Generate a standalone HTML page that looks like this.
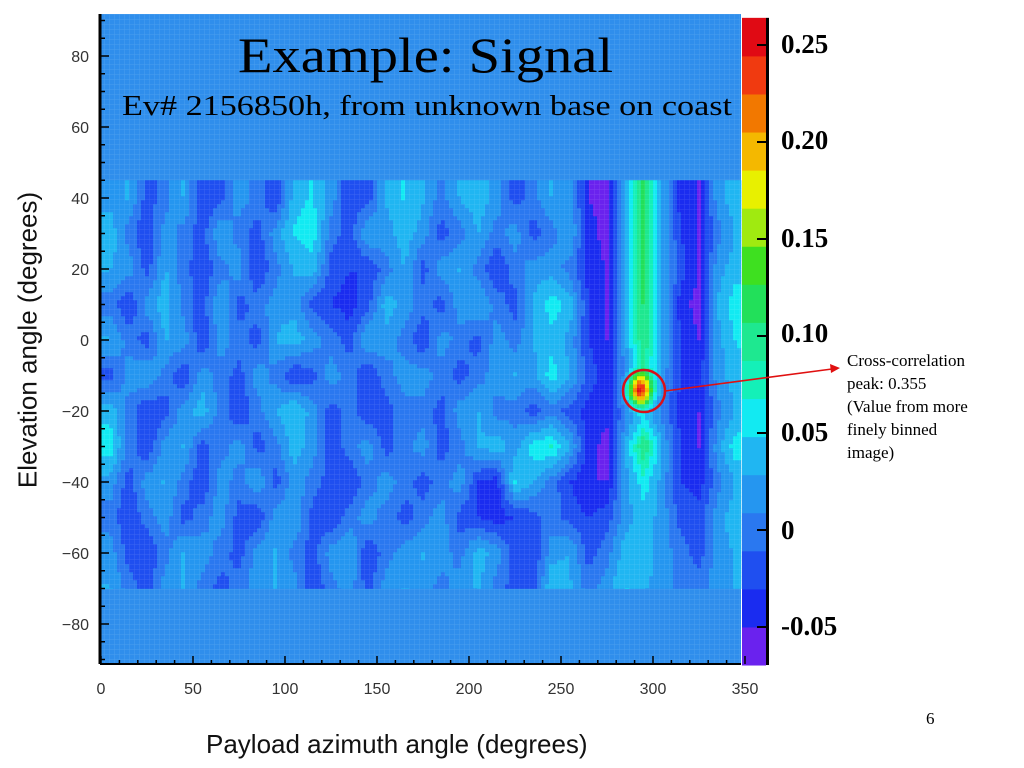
<!DOCTYPE html>
<html><head><meta charset="utf-8">
<style>
html,body{margin:0;padding:0;background:#fff;}
body{width:1024px;height:768px;position:relative;overflow:hidden;font-family:"Liberation Sans",sans-serif;}
.abs{position:absolute;white-space:nowrap;}
.serif{font-family:"Liberation Serif",serif;}
.cb{font-family:"Liberation Serif",serif;font-weight:bold;font-size:27px;color:#000;}
</style></head>
<body>
<svg id="chart" width="1024" height="768" style="position:absolute;left:0;top:0">
  <defs>
    <pattern id="gridpat" width="5" height="5" patternUnits="userSpaceOnUse">
      <path d="M5 0V5M0 5H5" stroke="#ffffff" stroke-opacity="0.13" stroke-width="1" fill="none"/>
    </pattern>
  </defs>
  <rect x="101" y="14" width="640" height="650" fill="#2f8eec"/>
  <g id="cells"></g>
  <rect x="101" y="14" width="640" height="650" fill="url(#gridpat)"/>
  <g id="colorbar"></g>
  <g id="axes"></g>
  <circle cx="644" cy="391" r="21" fill="none" stroke="#d8101a" stroke-width="2.5"/>
  <line x1="665" y1="391" x2="832" y2="369" stroke="#e01010" stroke-width="1.6"/>
  <polygon points="840,368 830,364 831,373" fill="#e01010"/>
</svg>

<div class="abs serif" style="left:238px;top:26px;font-size:50px;transform:scaleX(1.13);transform-origin:left top;">Example: Signal</div>
<div class="abs serif" style="left:122px;top:91px;font-size:28px;transform:scaleX(1.22);transform-origin:left top;">Ev# 2156850h, from unknown base on coast</div>

<div class="abs cb" style="left:781px;top:29px;">0.25</div>
<div class="abs cb" style="left:781px;top:125px;">0.20</div>
<div class="abs cb" style="left:781px;top:223px;">0.15</div>
<div class="abs cb" style="left:781px;top:318px;">0.10</div>
<div class="abs cb" style="left:781px;top:417px;">0.05</div>
<div class="abs cb" style="left:781px;top:515px;">0</div>
<div class="abs cb" style="left:781px;top:611px;">-0.05</div>

<div class="abs serif" style="left:847px;top:349px;font-size:17px;line-height:23px;white-space:normal;width:175px;">Cross-correlation<br>peak: 0.355<br>(Value from more<br>finely binned<br>image)</div>

<div class="abs" style="left:28px;top:340px;font-size:26px;transform:translate(-50%,-50%) rotate(-90deg);color:#111;">Elevation angle (degrees)</div>
<div class="abs" style="left:206px;top:729px;font-size:26px;color:#111;">Payload azimuth angle (degrees)</div>
<div class="abs serif" style="left:926px;top:709px;font-size:17px;">6</div>

<script>
// ---- data ----
const azimuthCenters = [5,15,25,35,45,55,65,75,85,95,105,115,125,135,145,155,165,175,185,195,205,215,225,235,245,255,265,275,285,295,305,315,325,335,345];
const elevationCenters = [40,30,20,10,0,-10,-20,-30,-40,-50,-60,-70];
// values in hundredths of correlation
const row40  = [2,3,-2,0,3,-3,-2,2,0,-3,4,5,2,-3,-2,3,5, 3,0,3,4,2,-2,0,3,2,-5,-6,4,12,3,-4,-5,2,4];
const row30  = [4,0,-3,2,0,-2,3,0,-2,2,5,6,0,-2,3,2,4, 2,-2,0,3,0,2,-2,0,3,-4,-6,4,12,3,-3,-5,0,3];
const row20  = [3,2,-2,3,0,-3,0,2,-3,0,3,4,-2,-3,-3,0,3, -2,2,3,0,-3,0,2,2,0,-4,-5,4,12,3,-2,-5,2,4];
const row10  = [0,-3,2,4,0,-2,3,-2,0,2,2,-2,-3,-4,-2,4,2, 0,-2,2,3,0,-2,3,6,4,-3,-5,3,11,3,-4,-6,3,6];
const row0   = [3,0,-2,3,2,-3,2,0,-2,3,4,2,0,-2,3,2,0, -3,2,0,-2,2,0,3,4,2,-3,-5,3,11,3,-3,-5,2,5];
const rowM10 = [-2,2,3,0,-3,2,0,-2,2,0,-3,-2,2,0,-3,0,2, 2,0,-2,0,2,3,2,6,3,-2,-4,0,7,2,-3,-4,2,4];
const rowM20 = [4,0,-3,-2,2,4,0,-3,0,3,5,2,-2,0,-3,-2,0, 0,-2,2,3,0,0,-2,0,-2,-4,-4,0,3,0,-4,-5,0,3];
const rowM30 = [6,0,-3,2,3,-2,0,2,-2,0,4,2,-3,0,2,-2,0, 2,-2,0,3,4,2,6,7,3,-4,-6,3,11,3,-3,-5,2,6];
const rowM40 = [2,-2,2,3,0,-3,2,0,3,-2,2,0,-2,-3,0,2,0, -2,0,2,-3,-4,5,3,0,-3,-5,-5,2,6,2,-3,-4,0,3];
const rowM50 = [0,-3,0,2,-2,0,2,-2,-3,2,3,-2,-3,0,2,0,-2, 0,2,-2,-3,-4,-3,-2,0,-2,-3,-2,2,4,2,-2,-2,2,4];
const rowM60 = [2,-2,-3,0,3,2,0,-2,2,3,0,-2,2,3,-3,0,2, 3,2,0,4,2,-2,-3,2,3,-2,0,4,4,2,0,-2,2,3];
const rowM70 = [3,0,-2,2,3,0,-2,0,2,3,2,-3,0,2,-2,2,3, 2,0,2,3,0,-2,-2,5,3,0,2,5,3,2,0,0,2,3];
const peakAzimuth = 293, peakElevation = -14, peakValue = 0.25;
const colorbarTicks = [0.25,0.20,0.15,0.10,0.05,0,-0.05];
const xTicks = [0,50,100,150,200,250,300,350];
const yTicks = [80,60,40,20,0,-20,-40,-60,-80];
const palette = ['#6a22ee','#1a2cf0','#1f4ff0','#2a78f0','#2596f0','#20b6f2','#12eaf2','#14f0b8','#1ee890','#22e05a','#3ee020','#a0ea10','#e8f000','#f4b800','#f27800','#f03a10','#e00a14'];
const vMin = -0.0696, vMax = 0.264;

const grid = [row40,row30,row20,row10,row0,rowM10,rowM20,rowM30,rowM40,rowM50,rowM60,rowM70];

// ---- scales ----
const xOf = az => 101 + az*1.84;
const yOf = el => 340 - el*3.55;
const azOf = x => (x-101)/1.84;
const elOf = y => (340-y)/3.55;
const vToY = v => 45 + (0.25 - v)*1940;

function sample(az, el){
  const na = azimuthCenters.length, ne = elevationCenters.length;
  let fi = (az - azimuthCenters[0])/(azimuthCenters[1]-azimuthCenters[0]);
  let fj = (elevationCenters[0] - el)/(elevationCenters[0]-elevationCenters[1]);
  fi = Math.max(0, Math.min(na-1.0001, fi));
  fj = Math.max(0, Math.min(ne-1.0001, fj));
  const i = Math.floor(fi), j = Math.floor(fj), a = fi-i, b = fj-j;
  const v = (grid[j][i]*(1-a)*(1-b) + grid[j][i+1]*a*(1-b) + grid[j+1][i]*(1-a)*b + grid[j+1][i+1]*a*b)/100;
  const g = Math.exp(-((az-peakAzimuth)**2)/(2*4.5*4.5) - ((el-peakElevation)**2)/(2*3.2*3.2));
  return v + (peakValue - v)*g;
}
function colorOf(v){
  let k = Math.floor((v - vMin)/((vMax - vMin)/palette.length));
  k = Math.max(0, Math.min(palette.length-1, k));
  return palette[k];
}
const NS = 'http://www.w3.org/2000/svg';
const cells = document.getElementById('cells');
const step = 4;
const topY = yOf(45), bottomY = yOf(-70);
for (let y = topY; y < bottomY; y += step){
  for (let x = 101; x < 741; x += step){
    const r = document.createElementNS(NS,'rect');
    r.setAttribute('x', x); r.setAttribute('y', y);
    r.setAttribute('width', Math.min(step, 741-x)+0.3); r.setAttribute('height', Math.min(step, bottomY-y)+0.3);
    r.setAttribute('fill', colorOf(sample(azOf(x+step/2), elOf(y+step/2))));
    
    
    cells.appendChild(r);
  }
}
// colorbar
const cb = document.getElementById('colorbar');
const segH = (vMax - vMin)/palette.length;
palette.forEach((c, k) => {
  const lo = vMin + k*segH, hi = lo + segH;
  const r = document.createElementNS(NS,'rect');
  r.setAttribute('x', 742); r.setAttribute('y', vToY(hi));
  r.setAttribute('width', 24); r.setAttribute('height', vToY(lo)-vToY(hi)+0.5);
  r.setAttribute('fill', c);
  
  
  cb.appendChild(r);
});
const cbBorder = document.createElementNS(NS,'rect');
cbBorder.setAttribute('x', 766); cbBorder.setAttribute('y', vToY(vMax)); cbBorder.setAttribute('width', 3); cbBorder.setAttribute('height', vToY(vMin)-vToY(vMax));
cbBorder.setAttribute('fill', '#000');


cb.appendChild(cbBorder);
colorbarTicks.forEach(v => {
  const l = document.createElementNS(NS,'line');
  l.setAttribute('x1', 757); l.setAttribute('x2', 767); l.setAttribute('y1', vToY(v)); l.setAttribute('y2', vToY(v));
  l.setAttribute('stroke', '#000'); l.setAttribute('stroke-width', 2);
  
  
  cb.appendChild(l);
});
// axes
const ax = document.getElementById('axes');
function add(tag, attrs, name){
  const e = document.createElementNS(NS, tag);
  for (const k in attrs) e.setAttribute(k, attrs[k]);
  
  
  ax.appendChild(e); return e;
}
add('line',{x1:100,x2:100,y1:14,y2:664,stroke:'#000','stroke-width':3},'y-axis-line');
add('line',{x1:100,x2:741,y1:664,y2:664,stroke:'#000','stroke-width':2},'x-axis-line');
for (let el = -90; el <= 90; el += 5){
  add('line',{x1:101,x2:el%20===0?109:105,y1:yOf(el),y2:yOf(el),stroke:'#000','stroke-width':1.5},'y-tick');
}
for (let az = 0; az <= 350; az += 10){
  add('line',{x1:xOf(az),x2:xOf(az),y1:664,y2:az%50===0?656:660,stroke:'#000','stroke-width':1.5},'x-tick');
}
yTicks.forEach(t => {
  const tx = add('text',{x:89,y:yOf(t)+6,'text-anchor':'end','font-size':16,fill:'#333','font-family':'Liberation Sans, sans-serif'},'y-tick-label');
  tx.textContent = t < 0 ? '\u2212'+Math.abs(t) : String(t);
});
xTicks.forEach(t => {
  const tx = add('text',{x:xOf(t),y:694,'text-anchor':'middle','font-size':16,fill:'#333','font-family':'Liberation Sans, sans-serif'},'x-tick-label');
  tx.textContent = String(t);
});
</script>
</body></html>
